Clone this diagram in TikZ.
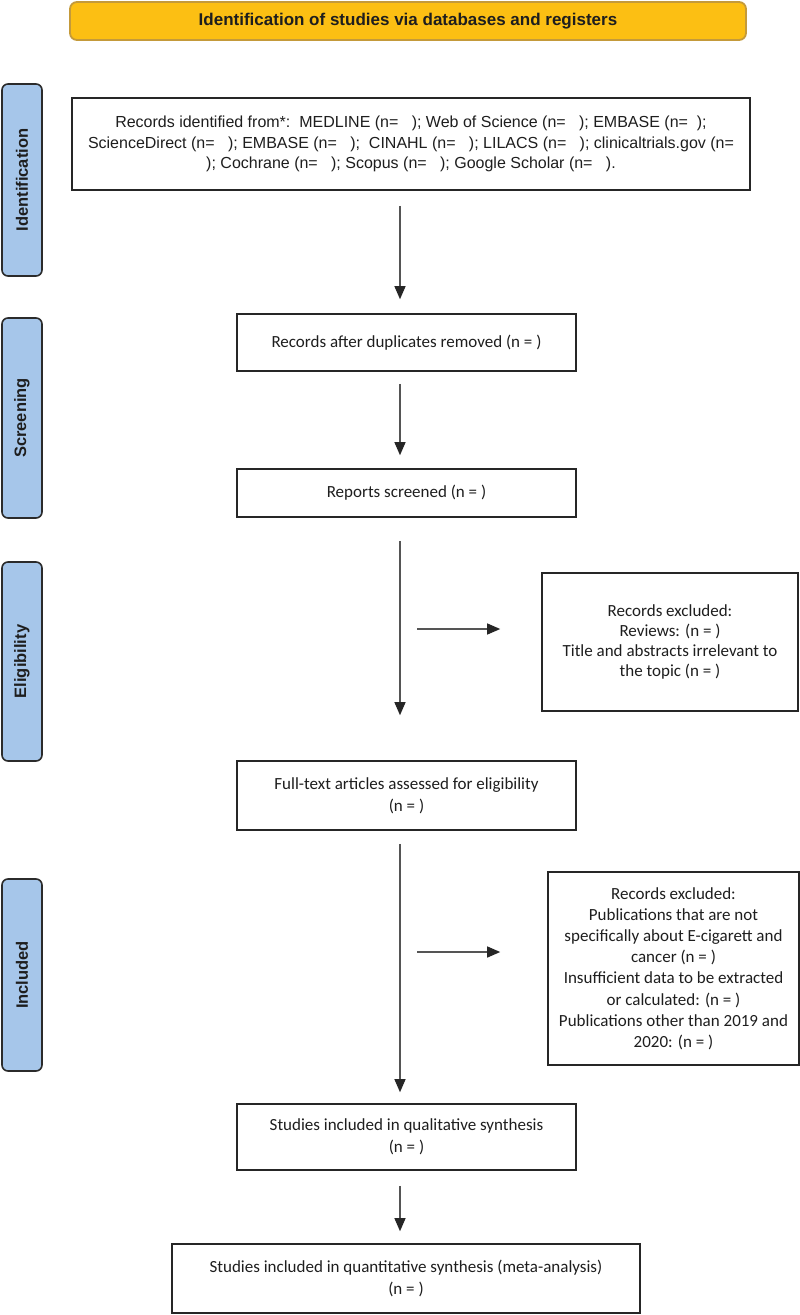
\documentclass[tikz,border=0pt]{standalone}
\usepackage{fontspec}
\setmainfont{Carlito}
\newfontfamily\arialf{Liberation Sans}
\usetikzlibrary{arrows.meta,calc}
\definecolor{hdrfill}{HTML}{FCBF13}
\definecolor{hdrline}{HTML}{C49A3A}
\definecolor{sidefill}{HTML}{A6C6EA}
\definecolor{sideline}{HTML}{2B2B2B}
\definecolor{arrline}{HTML}{555555}
\definecolor{txt}{HTML}{1E1E1E}
\tikzset{
 box/.style={draw=black!85, line width=1.6pt, align=center, inner sep=0pt, text=txt, font=\fontsize{17}{22}\selectfont},
 sidebox/.style={draw=sideline, fill=sidefill, line width=1.6pt, rounded corners=6pt, inner sep=0pt, minimum width=40pt},
 sidetext/.style={rotate=90, font=\arialf\bfseries\fontsize{16.5}{18}\selectfont, text=txt},
 arr/.style={draw=arrline, line width=1.2pt, -{Triangle[width=11pt,length=13pt,color=black!85]}},
}
\begin{document}
\begin{tikzpicture}[x=1pt,y=-1pt]
\useasboundingbox (0,0) rectangle (800,1315);
\fill[white] (0,0) rectangle (800,1315);

% header
\node[draw=hdrline, fill=hdrfill, line width=1.8pt, rounded corners=7pt, minimum width=676pt, minimum height=38pt, inner sep=0pt,
  font=\arialf\bfseries\fontsize{17}{19}\selectfont, text=txt] (hdr) at (408,21) {Identification of studies via databases and registers};

% side labels
\node[sidebox, minimum height=192pt] (sid) at (22,180) {};
\node[sidetext] (sidt) at (sid.center) {Identification};
\node[sidebox, minimum height=200pt] (ssc) at (22,418) {};
\node[sidetext] (ssct) at (ssc.center) {Screening};
\node[sidebox, minimum height=199pt] (sel) at (22,661.5) {};
\node[sidetext] (selt) at (sel.center) {Eligibility};
\node[sidebox, minimum height=192pt] (sin) at (22,975) {};
\node[sidetext] (sint) at (sin.center) {Included};

% main boxes
\node[box, minimum width=678pt, minimum height=92pt, font=\arialf\fontsize{16}{20.5}\selectfont] (rec) at (411,144)
 {Records identified from*:\ \ MEDLINE (n=\ \ \ ); Web of Science (n=\ \ \ ); EMBASE (n=\ \ );\\
  ScienceDirect (n=\ \ \ ); EMBASE (n=\ \ \ );\ \ CINAHL (n=\ \ \ ); LILACS (n=\ \ \ ); clinicaltrials.gov (n=\\
  ); Cochrane (n=\ \ \ ); Scopus (n=\ \ \ ); Google Scholar (n=\ \ \ ).};
\node[box, minimum width=339pt, minimum height=57pt] (dup) at (406.5,342.5) {Records after duplicates removed (n = )};
\node[box, minimum width=339pt, minimum height=48pt] (scr) at (406.5,493) {Reports screened (n = )};
\node[box, minimum width=256pt, minimum height=138pt, font=\fontsize{17}{20.3}\selectfont] (ex1) at (670,642)
 {Records excluded:\\ Reviews: (n = )\\ Title and abstracts irrelevant to\\ the topic (n = )};
\node[box, minimum width=339pt, minimum height=69pt] (full) at (406.5,795.5) {Full-text articles assessed for eligibility\\ (n = )};
\node[box, minimum width=251pt, minimum height=193pt, font=\fontsize{17}{21.2}\selectfont] (ex2) at (673.5,968.5)
 {Records excluded:\\ Publications that are not\\ specifically about E-cigarett and\\ cancer (n = )\\ Insufficient data to be extracted\\ or calculated: (n = )\\ Publications other than 2019 and\\ 2020: (n = )};
\node[box, minimum width=339pt, minimum height=66pt] (qual) at (406.5,1137) {Studies included in qualitative synthesis\\ (n = )};
\node[box, minimum width=468pt, minimum height=69pt] (quant) at (406,1278.5) {Studies included in quantitative synthesis (meta-analysis)\\ (n = )};

% connectors
\coordinate (ax) at (400,0);
\draw[arr] ($(rec.south -| ax)+(0,15)$) -- ($(dup.north -| ax)+(0,-14)$);
\draw[arr] ($(dup.south -| ax)+(0,12)$) -- ($(scr.north -| ax)+(0,-13)$);
\draw[arr] ($(scr.south -| ax)+(0,23)$) -- ($(full.north -| ax)+(0,-45)$);
\draw[arr] ($(full.south -| ax)+(0,13)$) -- ($(qual.north -| ax)+(0,-11)$);
\draw[arr] ($(qual.south -| ax)+(0,15)$) -- ($(quant.north -| ax)+(0,-12)$);
\coordinate (h1) at (417,629);
\coordinate (h2) at (417,952);
\draw[arr] (h1) -- ($(h1 -| ex1.west)+(-41,0)$);
\draw[arr] (h2) -- ($(h2 -| ex2.west)+(-47,0)$);
\end{tikzpicture}
\end{document}
